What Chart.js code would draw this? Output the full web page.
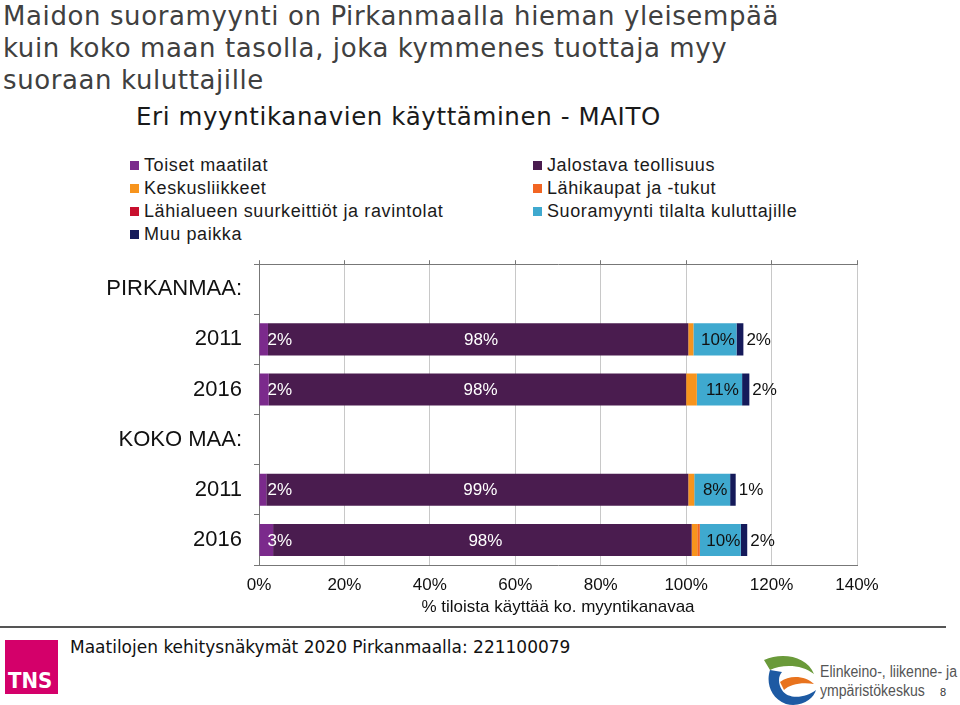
<!DOCTYPE html>
<html>
<head>
<meta charset="utf-8">
<script src="https://cdn.jsdelivr.net/npm/chart.js@4.4.1/dist/chart.umd.min.js"></script>
<style>
  body { margin: 0; width: 960px; height: 705px; position: relative; background: #fff; overflow: hidden; font-family: "Liberation Sans", Arial, sans-serif; }
  .title { position: absolute; left: 3px; top: 0px; font-family: "DejaVu Sans", Verdana, sans-serif; font-size: 26px; letter-spacing: 0.6px; line-height: 32px; color: #404040; white-space: nowrap; }
  .subtitle { position: absolute; left: 136px; top: 102px; font-family: "DejaVu Sans", Verdana, sans-serif; font-size: 24.5px; letter-spacing: 0.6px; color: #1a1a1a; white-space: nowrap; }
  .legend { position: absolute; top: 154px; font-size: 18px; letter-spacing: 0.6px; color: #1a1a1a; }
  .legend div { height: 23px; line-height: 23px; white-space: nowrap; }
  .legend span { display: inline-block; width: 9px; height: 9px; margin-right: 5px; vertical-align: 1px; }
  #wrap { position: absolute; left: 0; top: 239px; width: 960px; height: 379px; }
  .footline { position: absolute; left: 0; top: 626px; width: 946px; height: 2px; background: #555; }
  .tns { position: absolute; left: 5px; top: 640px; width: 53px; height: 54px; background: #d4006a; }
  .tns b { position: absolute; left: 3px; bottom: 1px; color: #fff; font-family: "Liberation Sans Narrow", "DejaVu Sans Condensed", sans-serif; font-size: 22px; }
  .foot { position: absolute; left: 70px; top: 637px; font-family: "DejaVu Sans", Verdana, sans-serif; font-size: 17px; color: #111; white-space: nowrap; }
  .ely { position: absolute; left: 820px; top: 662px; font-family: "Liberation Sans", Arial, sans-serif; font-size: 16px; line-height: 19px; color: #555; white-space: nowrap; transform: scaleX(0.88); transform-origin: left top; }
  .page { position: absolute; left: 940px; top: 686px; font-size: 11px; color: #333; }
</style>
</head>
<body>
<div class="title">Maidon suoramyynti on Pirkanmaalla hieman yleisempää<br>kuin koko maan tasolla, joka kymmenes tuottaja myy<br>suoraan kuluttajille</div>
<div class="subtitle">Eri myyntikanavien käyttäminen - MAITO</div>
<div class="legend" id="legL" style="left:130px"></div>
<div class="legend" id="legR" style="left:533px"></div>
<div id="wrap"><canvas id="chart"></canvas></div>
<div class="footline"></div>
<div class="tns"><b>TNS</b></div>
<div class="foot">Maatilojen kehitysnäkymät 2020 Pirkanmaalla: 221100079</div>
<svg style="position:absolute;left:762px;top:652px" width="58" height="53" viewBox="0 0 58 53">
  <path d="M2 8 C20 0 45 4 52 22 C40 12 20 12 8 18 Z" fill="#6a9a3a"/>
  <path d="M18 30 C28 22 44 24 52 32 C40 30 28 32 22 38 Z" fill="#e8731e"/>
  <path d="M8 18 C4 30 8 46 24 52 C40 56 52 46 54 38 C44 46 26 48 20 38 C16 32 16 24 20 20 Z" fill="#1d5aa3"/>
</svg>
<div class="ely">Elinkeino-, liikenne- ja<br>ympäristökeskus</div>
<div class="page">8</div>
<script>
var categories = ['PIRKANMAA:', '2011', '2016', 'KOKO MAA:', '2011', '2016'];
var seriesNames = ['Toiset maatilat', 'Jalostava teollisuus', 'Keskusliikkeet', 'Lähikaupat ja -tukut',
                   'Lähialueen suurkeittiöt ja ravintolat', 'Suoramyynti tilalta kuluttajille', 'Muu paikka'];
var toiset = [null, 2.1, 2.3, null, 1.7, 3.3];
var jalostava = [null, 98.4, 97.7, null, 98.8, 98];
var keskus = [null, 1.2, 2.5, null, 1.4, 1.3];
var lahikaupat = [null, 0, 0, null, 0, 0.6];
var lahialue = [null, 0, 0, null, 0, 0];
var suora = [null, 10.1, 10.6, null, 8.4, 9.6];
var muu = [null, 1.6, 1.7, null, 1.3, 1.5];
var xTicks = [0, 20, 40, 60, 80, 100, 120, 140];

var colors = ['#7b2a8c', '#4a1c4f', '#f7941d', '#f26522', '#c8102e', '#3fa9cf', '#151a5a'];
var values = [toiset, jalostava, keskus, lahikaupat, lahialue, suora, muu];
// label style per series: where and what colour, null = no label
var labelMode = ['start', 'center', null, null, null, 'center', 'outside'];
var labelColor = ['#ffffff', '#ffffff', null, null, null, '#111111', '#111111'];

// legend, two columns filled row by row
var legL = document.getElementById('legL');
var legR = document.getElementById('legR');
for (var i = 0; i < seriesNames.length; i++) {
    var d = document.createElement('div');
    d.innerHTML = '<span style="background:' + colors[i] + '"></span>' + seriesNames[i];
    (i % 2 == 0 ? legL : legR).appendChild(d);
}

var datasets = [];
for (var i = 0; i < values.length; i++) {
    datasets.push({
        label: seriesNames[i],
        data: values[i],
        backgroundColor: colors[i],
        borderWidth: 0,
        barPercentage: 0.64,
        categoryPercentage: 1
    });
}

var labelPlugin = {
    id: 'barLabels',
    afterDatasetsDraw: function(chart) {
        var ctx = chart.ctx;
        ctx.save();
        ctx.font = '17px "Liberation Sans", Arial, sans-serif';
        ctx.textBaseline = 'middle';
        chart.data.datasets.forEach(function(ds, i) {
            if (!labelMode[i]) return;
            var meta = chart.getDatasetMeta(i);
            meta.data.forEach(function(bar, j) {
                var v = ds.data[j];
                if (v == null) return;
                var txt = Math.round(v) + '%';
                ctx.fillStyle = labelColor[i];
                if (labelMode[i] == 'start') {
                    ctx.textAlign = 'left';
                    ctx.fillText(txt, bar.base + 8, bar.y + 1);
                } else if (labelMode[i] == 'center') {
                    ctx.textAlign = 'center';
                    ctx.fillText(txt, (bar.base + bar.x) / 2 + 3, bar.y + 1);
                } else {
                    ctx.textAlign = 'left';
                    ctx.fillText(txt, bar.x + 3, bar.y + 1);
                }
            });
        });
        ctx.restore();
    }
};

var chart = new Chart(document.getElementById('chart'), {
    type: 'bar',
    data: { labels: categories, datasets: datasets },
    plugins: [labelPlugin],
    options: {
        indexAxis: 'y',
        responsive: true,
        maintainAspectRatio: false,
        animation: false,
        layout: { padding: { left: 0, right: 103, top: 1, bottom: 0 } },
        plugins: { legend: { display: false }, tooltip: { enabled: false } },
        scales: {
            x: {
                stacked: true,
                min: 0,
                max: 140,
                afterBuildTicks: function(scale) {
                    scale.ticks = xTicks.map(function(v) { return { value: v }; });
                },
                ticks: {
                    callback: function(v) { return v + '%'; },
                    color: '#111',
                    font: { size: 17, family: '"Liberation Sans", Arial, sans-serif' },
                    padding: 10,
                    maxRotation: 0
                },
                grid: { color: '#c8c8c8', drawTicks: false },
                border: { color: '#777', width: 1 },
                title: {
                    display: true,
                    text: '% tiloista käyttää ko. myyntikanavaa',
                    color: '#111',
                    font: { size: 17, family: '"Liberation Sans", Arial, sans-serif' },
                    padding: { top: 2, bottom: 0 }
                },
                afterFit: function(scale) { scale.height = 53; }
            },
            xTop: {
                position: 'top',
                min: 0,
                max: 140,
                afterBuildTicks: function(scale) {
                    scale.ticks = xTicks.map(function(v) { return { value: v }; });
                },
                ticks: { display: false },
                grid: { drawOnChartArea: false, tickLength: 4, color: '#777' },
                border: { color: '#777', width: 1 },
                afterFit: function(scale) { scale.height = 4; }
            },
            y: {
                stacked: true,
                ticks: {
                    color: '#111',
                    font: { size: 22, family: '"Liberation Sans", Arial, sans-serif' },
                    padding: 12
                },
                grid: { offset: true, drawOnChartArea: false, tickLength: 5, color: '#777' },
                border: { color: '#777', width: 1 },
                afterFit: function(scale) { scale.width = 259; }
            }
        }
    }
});
</script>
</body>
</html>
